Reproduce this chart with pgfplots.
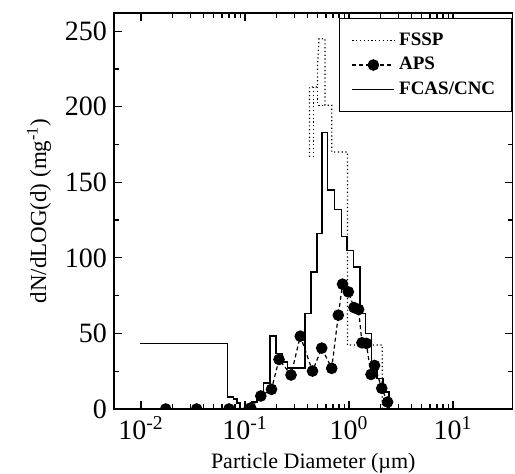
\documentclass[border=0pt]{standalone}
\usepackage{fontspec}
\setmainfont{Liberation Serif}
\usepackage{pgfplots}
\pgfplotsset{compat=1.18}
\begin{document}
\begin{tikzpicture}
\useasboundingbox (-57pt,-32pt) rectangle (200.5pt,204.5pt);
\begin{axis}[
  at={(0,0)}, anchor=south west, scale only axis,
  width=199.25pt, height=198pt,
  xmode=log, xmin=0.0055, xmax=37.3, ymin=0, ymax=262,
  clip marker paths=true,
  xtick={0.01,0.1,1,10},
  xticklabels={{10\textsuperscript{-2}},{10\textsuperscript{-1}},{10\textsuperscript{0}},{10\textsuperscript{1}}},
  ytick={0,50,100,150,200,250},
  yticklabels={0,50,100,150,200,250},
  minor y tick num=1,
  tick label style={font=\fontsize{14}{14}\selectfont},
  major tick length=4pt, minor tick length=2.5pt,
  tick style={line width=0.6pt,black},
  axis line style={line width=0.7pt},
  xlabel={Particle Diameter (µm)},
  ylabel={dN/dLOG(d) (mg\textsuperscript{-1})},
  xlabel style={font=\fontsize{11}{11}\selectfont},
  ylabel style={font=\fontsize{11.5}{11.5}\selectfont},
  legend style={at={(0.998,0.987)}, anchor=north east, draw=black, line width=0.5pt,
    fill=white, font=\bfseries\fontsize{9.5}{9.5}\selectfont, inner xsep=6pt, inner ysep=5pt,
    row sep=0.5pt},
  legend cell align=left,
  legend image code/.code={\draw[mark repeat=2,mark phase=2,#1] plot coordinates {(0pt,0pt)(10.5pt,0pt)(21pt,0pt)};},
]
% FSSP (dotted)
\addplot[black, line width=0.6pt, dash pattern=on 0.6pt off 1.3pt] coordinates {
(0.417,166.8)(0.417,213)(0.498,213)(0.498,227.4)(0.5147,245)(0.5877,245)(0.5877,201)
(0.6818,201)(0.6818,170)(0.9674,170)(0.9674,42.3)(2.09,42.3)(2.09,0)};
\addlegendentry{FSSP}
% APS
\addplot[black, line width=0.6pt, dash pattern=on 2pt off 1.5pt, mark=*, mark size=2.6pt,
  mark options={solid, fill=black}] coordinates {
(0.01728,0)(0.03431,0)(0.0702,0)(0.1134,0.7)(0.1418,8.6)(0.1798,13)(0.2123,32.8)
(0.2769,22.5)(0.3401,48.2)(0.4457,25.1)(0.5464,40.3)(0.6818,26.9)(0.789,62.1)
(0.866,82.6)(0.9846,77.5)(1.117,67.1)(1.237,65.8)(1.331,43.8)(1.467,43.4)
(1.627,22.9)(1.759,28.8)(2.063,13.7)(2.346,4.6)};
\addlegendentry{APS}
% FCAS/CNC
\addplot[black, line width=0.8pt, const plot] coordinates {
(0.0097,43.4)(0.0679,8.1)(0.0772,6.6)(0.0832,4)(0.0895,0)(0.1076,1.8)(0.1175,4.8)
(0.1296,8.6)(0.15,17.4)(0.1739,48.2)(0.1986,36.8)(0.2268,31)(0.2563,27)
(0.3775,63.2)(0.4281,90.7)(0.4892,116)(0.55,183)(0.6213,144.7)(0.7255,132)
(0.847,114)(0.9567,105)(1.1,94)(1.276,63.2)(1.441,50)(1.646,30.2)(1.847,20.3)
(2.123,11.4)(2.425,0)(3,0)};
\addlegendentry{FCAS/CNC}
\addplot[black, line width=0.6pt, dash pattern=on 0.6pt off 1.3pt, forget plot] coordinates {
(0.4536,166.8)(0.4536,213)};
\addplot[black, line width=0.6pt, dash pattern=on 0.6pt off 1.3pt, forget plot] coordinates {
(0.498,213)(0.498,201)(0.5877,201)};
\end{axis}
\end{tikzpicture}
\end{document}
